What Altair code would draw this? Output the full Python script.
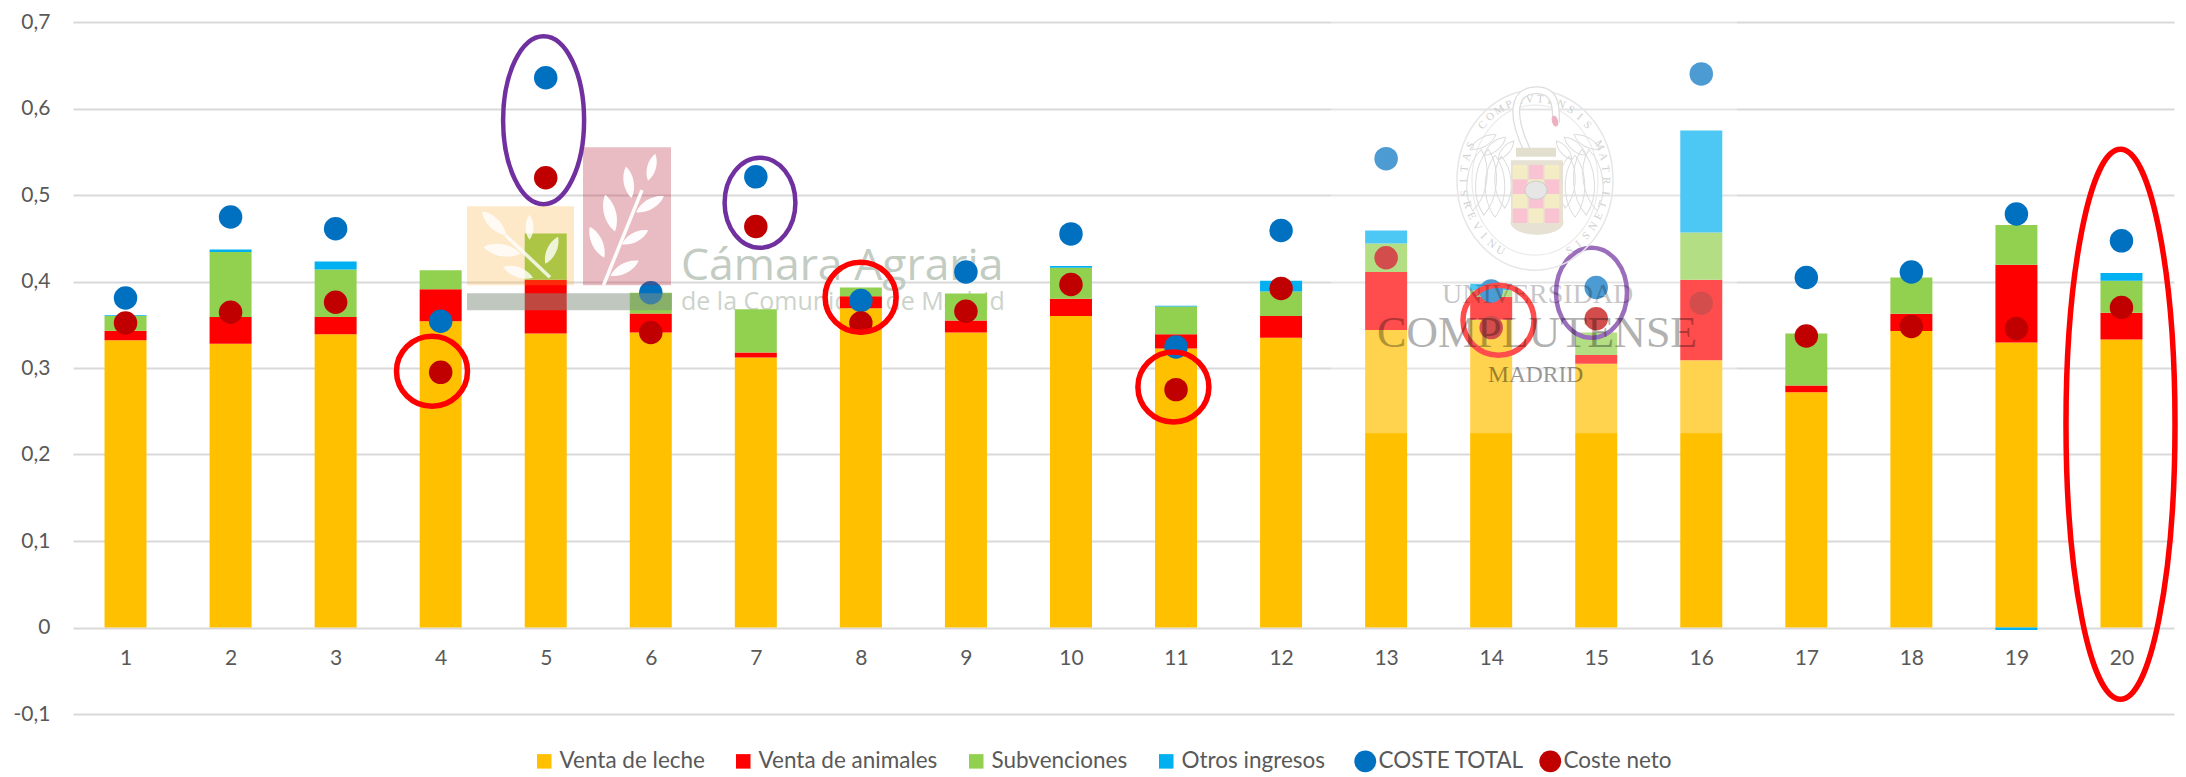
import math
import altair as alt
import pandas as pd

# ---------- data ----------
explotaciones = list(range(1, 21))
venta_leche = [.332, .328, .339, .354, .340, .341, .312, .369, .341, .360,
               .3226, .335, .344, .3557, .305, .309, .272, .3427, .3295, .333]
venta_animales = [.011, .031, .020, .037, .062, .022, .006, .014, .014, .020,
                  .0164, .025, .067, .0267, .010, .093, .0077, .020, .090, .031]
subvenciones = [.017, .075, .055, .022, .0536, .024, .050, .010, .031, .036,
                .032, .0285, .033, .0076, .026, .0547, .0603, .0419, .0458, .037]
otros_ingresos = [.001, .003, .009, 0, 0, 0, 0, 0, 0, .002,
                  .001, .0125, .015, .0075, 0, .118, 0, 0, -.003, .0087]
coste_total = [.381, .4745, .461, .354, .6355, .387, .521, .378, .411, .455,
               .3244, .459, .542, .389, .393, .640, .4046, .411, .478, .447]
coste_neto = [.352, .3645, .376, .295, .520, .341, .4636, .352, .3656, .3966,
              .275, .392, .4275, .3467, .357, .375, .337, .348, .3456, .370]

series_barras = ["Venta de leche", "Venta de animales", "Subvenciones", "Otros ingresos"]
colores_barras = ["#FFC000", "#FF0000", "#92D050", "#00B0F0"]
series_puntos = ["COSTE TOTAL", "Coste neto"]
colores_puntos = ["#0070C0", "#C00000"]
valores_y = [-0.1, 0, 0.1, 0.2, 0.3, 0.4, 0.5, 0.6, 0.7]
FONT = "Lato"
GRIS = "#595959"

# ---------- helpers for annotations placed on the picture ----------
def X(px):
    return 0.5 + (px - 73) / 105.05
def Y(py):
    return (627 - py) / 864.4

xs = alt.Scale(domain=[0.5, 20.5], nice=False, zero=False, padding=0)
ys = alt.Scale(domain=[-0.1, 0.7], nice=False, zero=False)
eje_x = alt.Axis(values=explotaciones, format="d", grid=False, ticks=False, domain=False,
                 labelFontSize=21, labelFont=FONT, labelColor=GRIS, labelPadding=19, offset=-86,
                 labelFlush=False)
eje_y = alt.Axis(values=valores_y, gridColor="#D9D9D9", gridWidth=2,
                 ticks=False, domain=False, labelFontSize=21, labelFont=FONT, labelColor=GRIS,
                 labelPadding=23, labelFlush=False,
                 labelExpr="(datum.value < 0 ? '-' : '') + (datum.value === 0 ? '0' : replace(format(abs(datum.value), '.1f'), '.', ','))")
def ex(f="x"):
    return alt.X(f"{f}:Q", scale=xs, axis=eje_x, title=None)
def ey(f="y"):
    return alt.Y(f"{f}:Q", scale=ys, axis=eje_y, title=None)

def ellipse_path(rx, ry):
    a = rx / ry
    k = 0.5523
    return (f"M0,-1 C{k*a:.4f},-1 {a:.4f},{-k:.4f} {a:.4f},0 C{a:.4f},{k:.4f} {k*a:.4f},1 0,1 "
            f"C{-k*a:.4f},1 {-a:.4f},{k:.4f} {-a:.4f},0 C{-a:.4f},{-k:.4f} {-k*a:.4f},-1 0,-1 Z")

def ellipse(px, py, rx, ry, color, sw=5.5):
    return alt.Chart(pd.DataFrame({"x": [X(px)], "y": [Y(py)]})).mark_point(
        shape=ellipse_path(rx, ry), size=(2 * ry) ** 2, filled=False, stroke=color, strokeWidth=sw, opacity=1
    ).encode(x=ex(), y=ey())

def rect(x0, y0, x1, y1, color, op):
    d = pd.DataFrame({"x": [X(x0)], "x2": [X(x1)], "y": [Y(y0)], "y2": [Y(y1)]})
    return alt.Chart(d).mark_rect(color=color, opacity=op).encode(x=ex(), x2="x2:Q", y=ey(), y2="y2:Q")

def line(x0, y0, x1, y1, color, w, op=1.0):
    d = pd.DataFrame({"x": [X(x0)], "x2": [X(x1)], "y": [Y(y0)], "y2": [Y(y1)]})
    return alt.Chart(d).mark_rule(color=color, strokeWidth=w, opacity=op).encode(x=ex(), x2="x2:Q", y=ey(), y2="y2:Q")

def label(txt, px, py, size, color, op=1.0, font=FONT, **kw):
    d = pd.DataFrame({"x": [X(px)], "y": [Y(py)], "t": [txt]})
    return alt.Chart(d).mark_text(align="left", baseline="alphabetic", fontSize=size, font=font,
                                  color=color, opacity=op, **kw).encode(x=ex(), y=ey(), text="t:N")

LEAF = "M0,-1 C0.42,-0.45 0.42,0.45 0,1 C-0.42,0.45 -0.42,-0.45 0,-1 Z"
def leaves(rows, op):
    d = pd.DataFrame({"x": [X(r[0]) for r in rows], "y": [Y(r[1]) for r in rows],
                      "s": [r[2] ** 2 for r in rows], "a": [r[3] % 360 for r in rows]})
    return alt.Chart(d).mark_point(shape=LEAF, filled=True, color="white", opacity=op, strokeWidth=0).encode(
        x=ex(), y=ey(),
        size=alt.Size("s:Q", scale=None, legend=None),
        angle=alt.Angle("a:Q", scale=None, legend=None))

def plumas(rows):
    d = pd.DataFrame({"x": [X(r[0]) for r in rows], "y": [Y(r[1]) for r in rows],
                      "s": [r[2] ** 2 for r in rows], "a": [r[3] % 360 for r in rows]})
    return alt.Chart(d).mark_point(shape=LEAF, filled=False, stroke="#DCDCDC", opacity=1, strokeWidth=1).encode(
        x=ex(), y=ey(),
        size=alt.Size("s:Q", scale=None, legend=None),
        angle=alt.Angle("a:Q", scale=None, legend=None))

# ---------- bars and points ----------
filas = []
for i, e in enumerate(explotaciones):
    for j, vals in enumerate([venta_leche, venta_animales, subvenciones, otros_ingresos]):
        filas.append({"e": e, "serie": series_barras[j], "v": vals[i], "o": j})
barras_df = pd.DataFrame(filas)
puntos_df = pd.DataFrame(
    [{"e": e, "serie": series_puntos[0], "v": v} for e, v in zip(explotaciones, coste_total)] +
    [{"e": e, "serie": series_puntos[1], "v": v} for e, v in zip(explotaciones, coste_neto)])

barras = alt.Chart(barras_df).mark_bar(size=42).encode(
    x=ex("e"),
    y=alt.Y("v:Q", stack="zero", scale=ys, axis=eje_y, title=None),
    color=alt.Color("serie:N", scale=alt.Scale(domain=series_barras, range=colores_barras),
                    legend=alt.Legend(orient="none", legendX=460, legendY=728, direction="horizontal", columns=4,
                                      title=None, labelFontSize=22.5, labelFont=FONT, labelColor=GRIS, labelLimit=400,
                                      symbolType="square", symbolSize=210, symbolStrokeWidth=0, symbolOpacity=1,
                                      columnPadding=27, labelOffset=4, padding=0)),
    order=alt.Order("o:Q"),
)
puntos = alt.Chart(puntos_df).mark_point(filled=True, opacity=1, strokeWidth=0, size=552, shape="circle").encode(
    x=ex("e"),
    y=ey("v"),
    color=alt.Color("serie:N", scale=alt.Scale(domain=series_puntos, range=colores_puntos),
                    legend=alt.Legend(orient="none", legendX=1281, legendY=728, direction="horizontal", columns=2,
                                      title=None, labelFontSize=22.5, labelFont=FONT, labelColor=GRIS, labelLimit=400,
                                      symbolType="circle", symbolSize=480, symbolStrokeWidth=0, symbolOpacity=1,
                                      columnPadding=15, labelOffset=2, padding=0)),
)

# ---------- Cámara Agraria watermark ----------
camara_texto = [
    label("Cámara Agraria", 681, 280, 44.5, "#C3CCC2", font="Open Sans"),
    label("de la Comunidad de Madrid", 681, 310, 25, "#CCD3CB", font="Open Sans"),
]
camara_logo = [
    rect(467, 206, 574, 285, "#F9A825", 0.26),
    rect(583, 147, 671, 285, "#B22234", 0.30),
    rect(467, 293, 672, 310, "#7F8F80", 0.50),
    leaves([(494, 223, 34, -45), (529.5, 227, 25, 0), (502, 250, 38, -80), (551.7, 250, 30, 25),
            (518, 272, 32, -70)], 0.8),
    line(505.5, 235, 550, 277, "white", 3.5, 0.8),
    leaves([(651.6, 167, 28, 15), (628.7, 182, 32, -10), (650, 204, 32, 60), (610, 213, 38, -15),
            (635, 237, 30, 62), (597, 242, 34, -25), (624.6, 268, 32, 62)], 0.95),
    line(642, 190, 603.5, 285, "white", 3.5, 0.95),
]

# ---------- Complutense watermark ----------
lema = "UNIVERSITAS COMPLVTENSIS MATRITENSIS"
letras = []
n = len(lema)
for i, c in enumerate(lema):
    deg = 205 + (i + 0.5) / n * 310
    a = math.radians(deg)
    d = deg % 360
    letras.append({"x": X(1535 + 71 * math.sin(a)), "y": Y(180 - 81 * math.cos(a)), "t": c,
                   "a": d if not (100 < d < 260) else (d + 180) % 360})
sello_letras = alt.Chart(pd.DataFrame(letras)).mark_text(
    fontSize=11, font="Liberation Serif", color="#D0D0D0", align="center", baseline="middle"
).encode(x=ex(), y=ey(), text="t:N", angle=alt.Angle("a:Q", scale=None, legend=None))

checks = []
colsq = ["#F4ECC4", "#F9C3D2"]
for r in range(4):
    for c in range(3):
        checks.append({"x": X(1520 + c * 16), "y": Y(172 + r * 14.5), "c": colsq[(r + c) % 2]})
cuadros = alt.Chart(pd.DataFrame(checks)).mark_point(shape="square", filled=True, size=210, opacity=1, strokeWidth=0).encode(
    x=ex(), y=ey(), color=alt.Color("c:N", scale=None, legend=None))

def blob(px, py, ry, rx, color, stroke, ang=0):
    return alt.Chart(pd.DataFrame({"x": [X(px)], "y": [Y(py)], "a": [ang % 360]})).mark_point(
        shape=ellipse_path(rx, ry), size=(2 * ry) ** 2, filled=True, fill=color, stroke=stroke, strokeWidth=1, opacity=1
    ).encode(x=ex(), y=ey(), angle=alt.Angle("a:Q", scale=None, legend=None))

CUELLO = "M-0.33,1 C-0.9,-0.2 -0.8,-1 0,-1 C0.6,-1 0.65,-0.5 0.63,0.07"
ala_izq = [(1477, 180, 62, 8), (1486, 182, 66, 4), (1495, 186, 62, 0), (1503, 182, 52, -4),
           (1483, 142, 30, 60), (1495, 146, 28, 50), (1506, 150, 24, 40)]
ala_der = [(3070 - r[0], r[1], r[2], -r[3]) for r in ala_izq]
def cuello(color, w):
    return alt.Chart(pd.DataFrame({"x": [X(1537)], "y": [Y(120)]})).mark_point(
        shape=CUELLO, size=3600, filled=False, stroke=color, strokeWidth=w, opacity=1).encode(x=ex(), y=ey())
sello = [
    ellipse(1535, 180, 78, 90, "#E6E6E6", 1.5),
    ellipse(1535, 180, 63, 75, "#EBEBEB", 1.2),
    sello_letras,
    plumas(ala_izq),
    plumas(ala_der),
    cuello("#DCDCDC", 8),
    cuello("#FFFFFF", 5.5),
    leaves([(1555, 123, 1, 0)], 1),
    blob(1555, 121, 5, 2.5, "#EDB0C0", "#EDB0C0", -15),
    line(1516, 152, 1556, 152, "#E3DFCF", 9),
    rect(1511, 160, 1563, 224, "#E6E1D2", 1),
    blob(1537, 222, 12, 26, "#E6E1D2", "#E6E1D2"),
    cuadros,
    blob(1536, 190, 9, 11, "#E6E6E6", "#CCCCCC"),
]
complutense_texto = [
    label("UNIVERSIDAD", 1442, 303, 28, "#000000", 0.22, font="Liberation Serif"),
    label("COMPLUTENSE", 1377, 347, 44, "#000000", 0.30, font="Liberation Serif"),
    label("MADRID", 1488, 382, 23.5, "#000000", 0.40, font="Liberation Serif"),
]

# ---------- hand-drawn rings ----------
MOR = "#7030A0"
ROJ = "#FF0000"
aros = [
    ellipse(543.6, 120, 40.5, 84, MOR, 4.5),
    ellipse(760, 202.5, 35.4, 45, MOR, 4.5),
    ellipse(432, 371, 35.5, 35, ROJ),
    ellipse(860.6, 297, 35.5, 35, ROJ),
    ellipse(1173.4, 386.6, 35.5, 35, ROJ),
    ellipse(2120.5, 424, 54.5, 275, ROJ),
]
aros_velo = [
    ellipse(1498.5, 320, 35.5, 35, ROJ),
    ellipse(1591.5, 292.5, 35.5, 45, MOR, 4.5),
]
velo = rect(1331, 20, 1737, 433, "white", 0.3)

capas = camara_texto + [barras, puntos] + aros_velo + [velo] + aros + camara_logo + sello + complutense_texto

chart = alt.layer(*capas).resolve_scale(color="independent", size="independent", angle="independent").properties(
    width=2101, height=692,
    padding={"left": 65, "top": 14, "right": 4, "bottom": 63},
    autosize=alt.AutoSizeParams(type="none"),
).configure_view(stroke=None)

chart.save("out.html", embed_options={"renderer": "svg", "actions": False})
